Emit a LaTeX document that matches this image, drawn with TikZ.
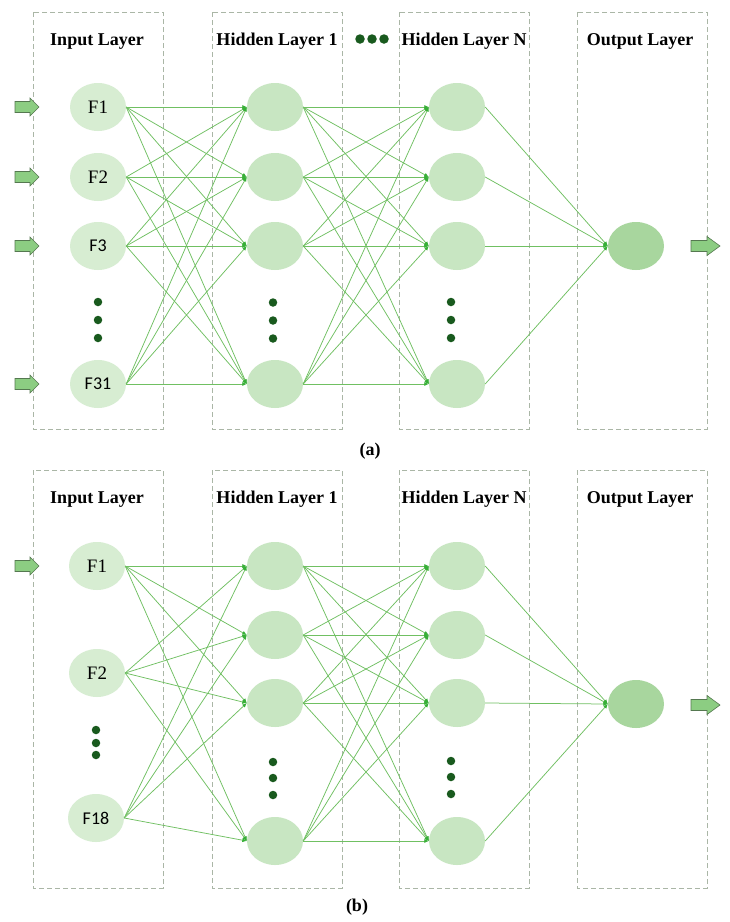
\documentclass[tikz,border=0pt]{standalone}
\usepackage{fontspec}
\setmainfont{Liberation Serif}
\newfontfamily\carlito{Carlito}
\usetikzlibrary{arrows.meta,shapes.geometric}
\definecolor{edgec}{RGB}{112,192,98}
\definecolor{tipc}{RGB}{55,175,55}
\definecolor{infill}{RGB}{215,237,210}
\definecolor{hidfill}{RGB}{200,230,194}
\definecolor{outfill}{RGB}{168,214,158}
\definecolor{boxc}{RGB}{170,182,166}
\definecolor{dotc}{RGB}{25,90,30}
\definecolor{arrfill}{RGB}{140,205,130}
\definecolor{arrline}{RGB}{85,120,80}
\tikzset{
  neuron/.style={ellipse, minimum width=56pt, minimum height=48pt, inner sep=0pt},
  innode/.style={neuron, fill=infill, font=\fontsize{19}{19}\selectfont},
  insans/.style={neuron, fill=infill, font=\fontsize{18}{18}\selectfont\carlito},
  hidnode/.style={neuron, fill=hidfill},
  outnode/.style={neuron, fill=outfill},
  layerbox/.style={draw=boxc, dash pattern=on 5pt off 3pt, line width=0.9pt},
  title/.style={anchor=base, font=\fontsize{18}{20}\selectfont\bfseries},
  conn/.style={draw=edgec, line width=0.75pt, -{Latex[length=4.5pt,width=4pt,color=tipc]}},
  dotnode/.style={circle, fill=dotc, inner sep=0pt, minimum size=8.5pt},
  inarrow/.pic={\draw[fill=arrfill, draw=arrline, line width=0.6pt] (0,-5.5) -- (15,-5.5) -- (15,-9) -- (24,0) -- (15,9) -- (15,5.5) -- (0,5.5) -- cycle;},
  outarrow/.pic={\draw[fill=arrfill, draw=arrline, line width=0.6pt] (0,-5.5) -- (16,-5.5) -- (16,-9.5) -- (29,0) -- (16,9.5) -- (16,5.5) -- (0,5.5) -- cycle;}
}
\begin{document}
\begin{tikzpicture}[x=1pt,y=-1pt]
\useasboundingbox (0,0) rectangle (730,922);
\fill[white] (0,0) rectangle (730,922);
% ---------------- panel (a) ----------------
\draw[layerbox] (33,12) rectangle (163,429);
\draw[layerbox] (212,12) rectangle (342,429);
\draw[layerbox] (399,12) rectangle (529,429);
\draw[layerbox] (577,12) rectangle (707,429);
\node[title] (ta1) at (97,45) {Input Layer};
\node[title] (ta2) at (277,45) {Hidden Layer 1};
\node[title] (ta3) at (464,45) {Hidden Layer N};
\node[title] (ta4) at (640,45) {Output Layer};
\node[dotnode, minimum size=9.5pt] (tda1) at (360,39) {};
\node[dotnode, minimum size=9.5pt] (tda2) at (372,39) {};
\node[dotnode, minimum size=9.5pt] (tda3) at (384,39) {};
\node[innode] (ai1) at (98,107) {F1};
\node[innode] (ai2) at (98,177) {F2};
\node[insans] (ai3) at (98,246) {F3};
\node[insans] (ai4) at (98,384) {F31};
\foreach \y [count=\k] in {107,177,246,384} {
  \node[hidnode] (ah\k) at (275,\y) {};
  \node[hidnode] (an\k) at (457,\y) {};
  \pic at (15,\y) {inarrow};
}
\node[outnode] (ao) at (636,246) {};
\pic at (691,246) {outarrow};
\foreach \y [count=\k] in {302,320,338} {
  \node[dotnode] (adi\k) at (98,\y) {};
  \node[dotnode] (adh\k) at (273,\y+0.5) {};
  \node[dotnode] (adn\k) at (451,\y) {};
}
\foreach \i in {1,...,4} {
  \foreach \j in {1,...,4} {
    \draw[conn] (ai\i.east) -- (ah\j.west);
    \draw[conn] (ah\i.east) -- (an\j.west);
  }
  \draw[conn] (an\i.east) -- (ao.west);
}
\node[title] (la) at (370,455) {(a)};
% ---------------- panel (b) ----------------
\draw[layerbox] (33,470) rectangle (163,888);
\draw[layerbox] (212,470) rectangle (342,888);
\draw[layerbox] (399,470) rectangle (529,888);
\draw[layerbox] (577,470) rectangle (707,888);
\node[title] (tb1) at (97,503) {Input Layer};
\node[title] (tb2) at (277,503) {Hidden Layer 1};
\node[title] (tb3) at (464,503) {Hidden Layer N};
\node[title] (tb4) at (640,503) {Output Layer};
\node[innode] (bi1) at (97,566) {F1};
\node[innode] (bi2) at (97,673) {F2};
\node[insans] (bi3) at (96,818) {F18};
\pic at (15,566) {inarrow};
\foreach \y [count=\k] in {566,635,703,841} {
  \node[hidnode] (bh\k) at (275,\y) {};
  \node[hidnode] (bn\k) at (457,\y) {};
}
\node[outnode] (bo) at (636,704) {};
\pic at (691,705) {outarrow};
\foreach \y [count=\k] in {730,743,755} {
  \node[dotnode] (bdi\k) at (96,\y) {};
}
\foreach \y [count=\k] in {762,778,795} {
  \node[dotnode] (bdh\k) at (273,\y) {};
  \node[dotnode] (bdn\k) at (451,\y-1) {};
}
\foreach \j in {1,...,4} {
  \foreach \i in {1,...,3} {
    \draw[conn] (bi\i.east) -- (bh\j.west);
  }
  \foreach \i in {1,...,4} {
    \draw[conn] (bh\i.east) -- (bn\j.west);
  }
  \draw[conn] (bn\j.east) -- (bo.west);
}
\node[title] (lb) at (357,911) {(b)};
\end{tikzpicture}
\end{document}
